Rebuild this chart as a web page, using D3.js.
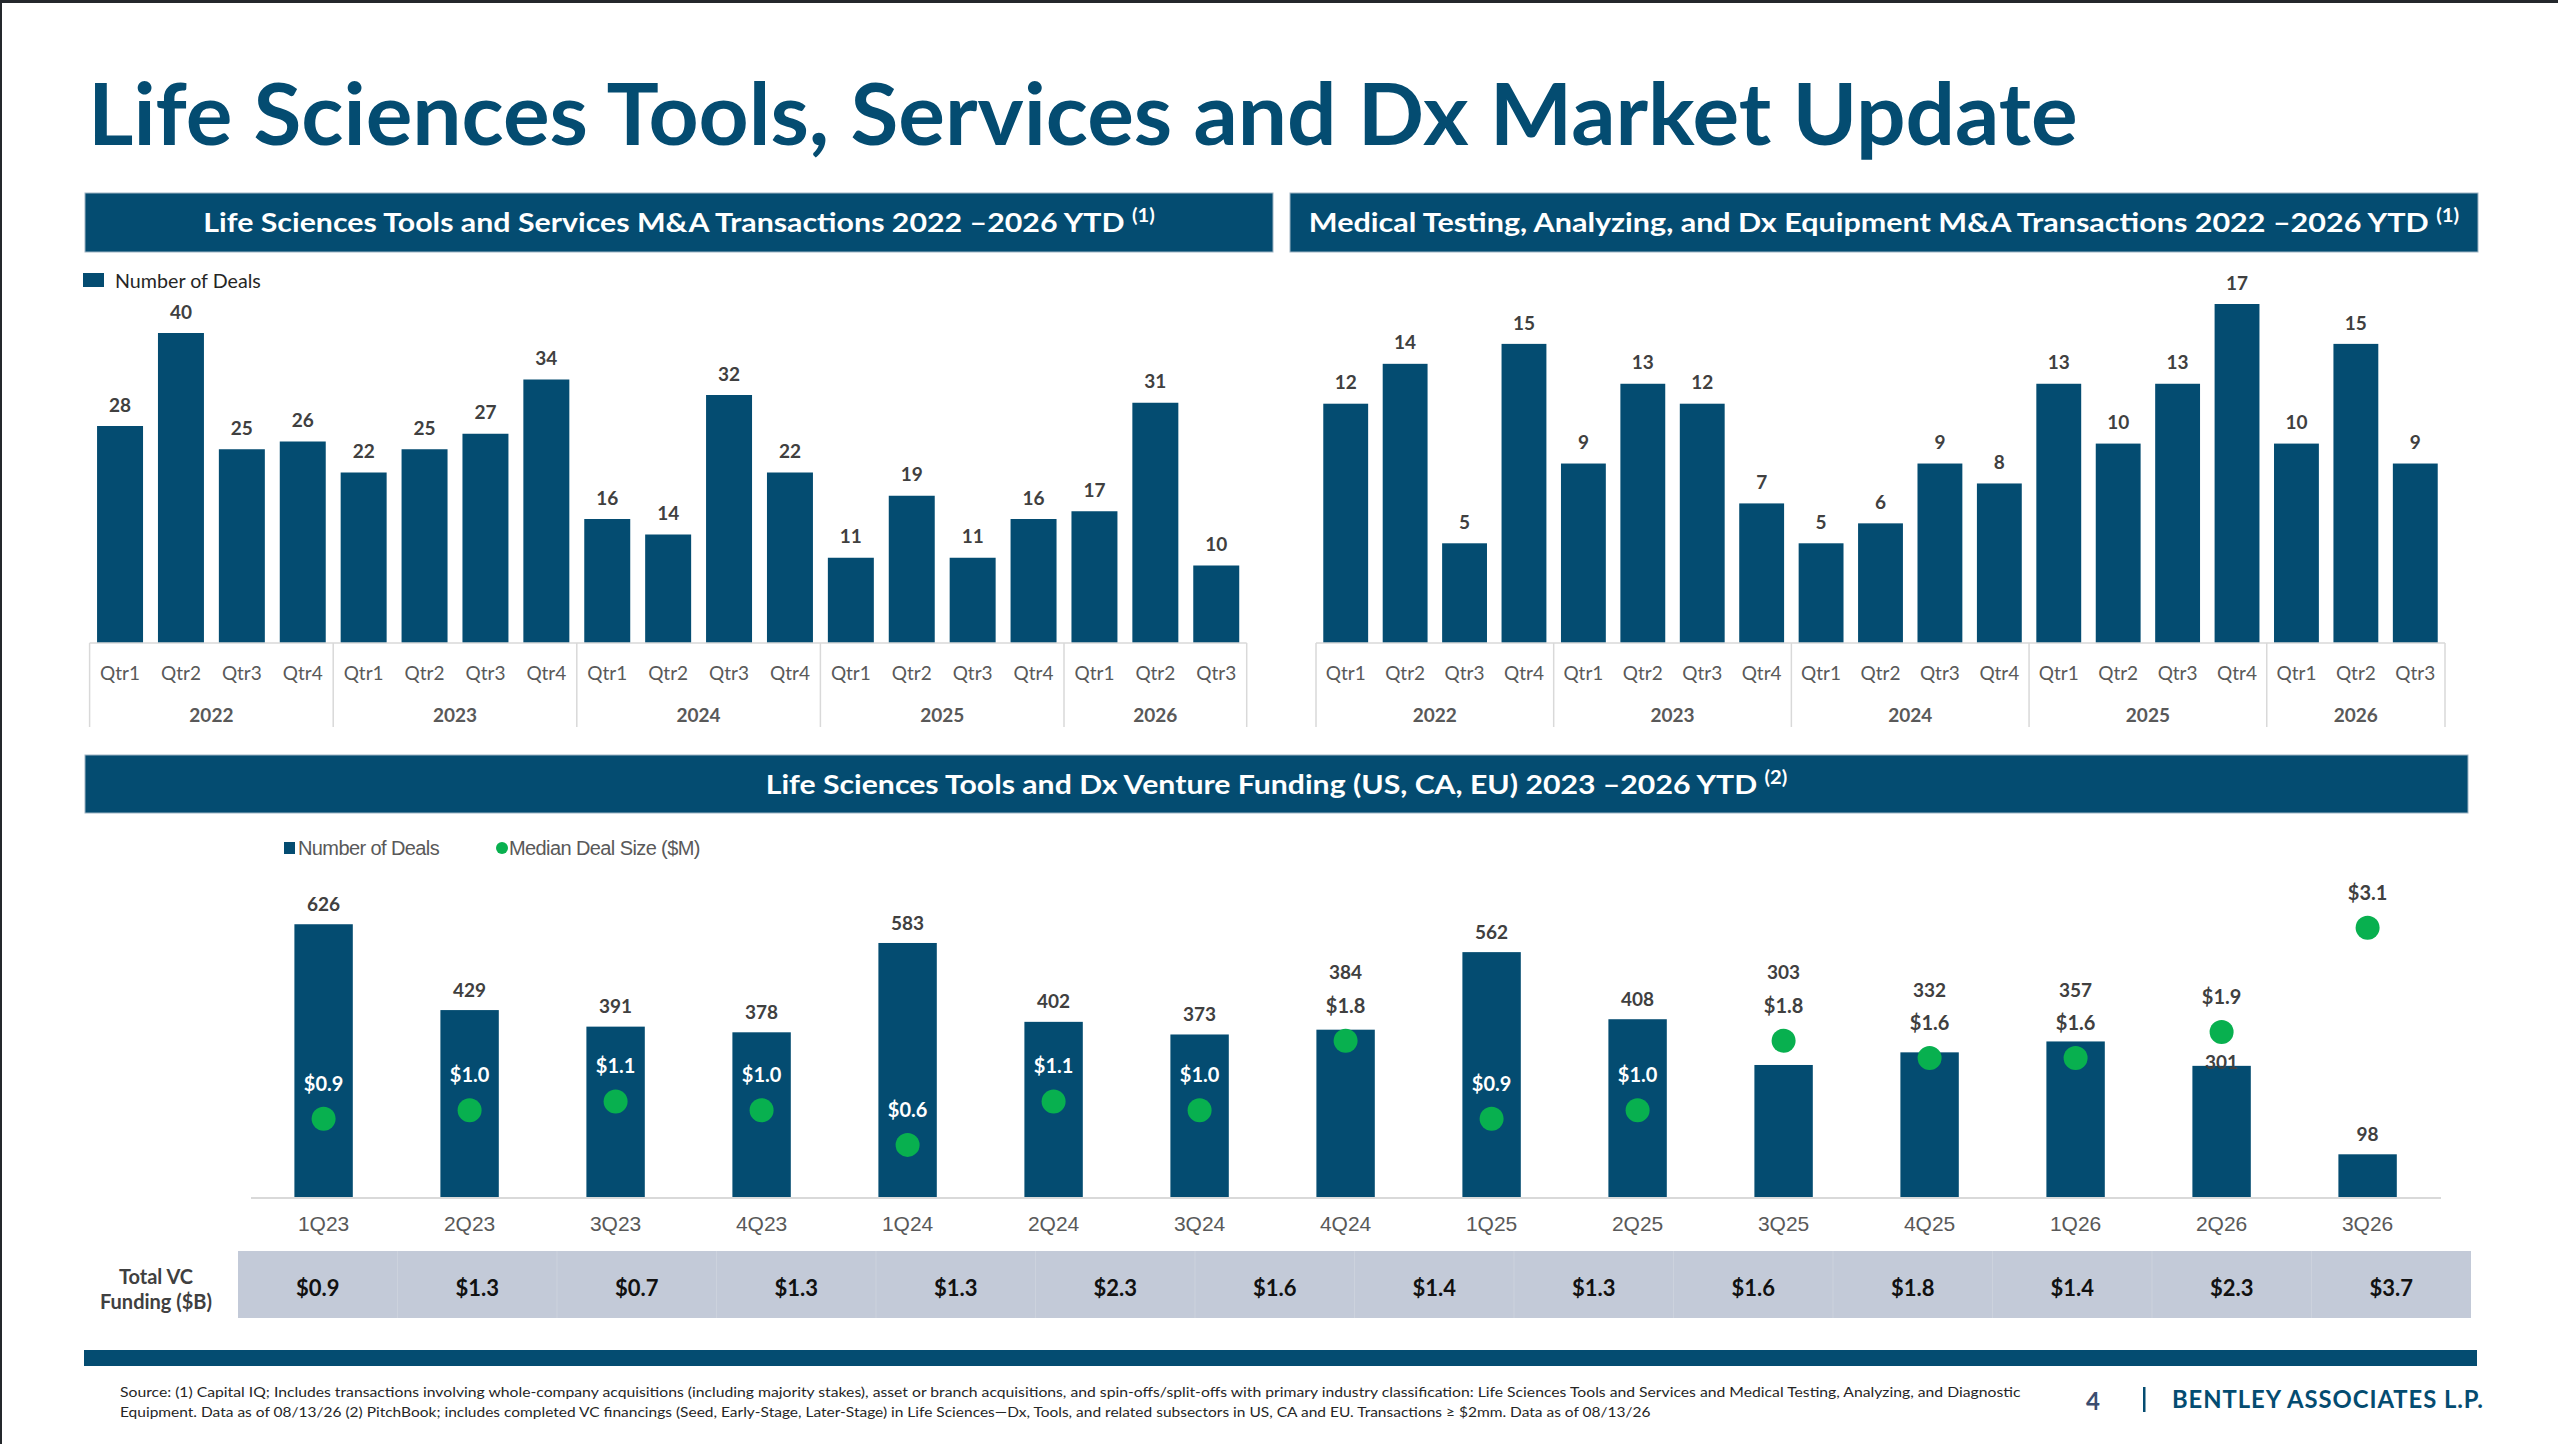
<!DOCTYPE html>
<html>
<head>
<meta charset="utf-8">
<script src="https://cdn.jsdelivr.net/npm/d3@7"></script>
<style>
  html, body { margin: 0; padding: 0; background: #fff; overflow: hidden; }
  svg { display: block; }
</style>
</head>
<body>
<div id="chart"></div>
<script>
// ---- data ----
var maCategories = ["2022-Qtr1","2022-Qtr2","2022-Qtr3","2022-Qtr4",
                    "2023-Qtr1","2023-Qtr2","2023-Qtr3","2023-Qtr4",
                    "2024-Qtr1","2024-Qtr2","2024-Qtr3","2024-Qtr4",
                    "2025-Qtr1","2025-Qtr2","2025-Qtr3","2025-Qtr4",
                    "2026-Qtr1","2026-Qtr2","2026-Qtr3"];
var toolsDeals   = [28, 40, 25, 26, 22, 25, 27, 34, 16, 14, 32, 22, 11, 19, 11, 16, 17, 31, 10];
var medtechDeals = [12, 14, 5, 15, 9, 13, 12, 7, 5, 6, 9, 8, 13, 10, 13, 17, 10, 15, 9];

var vcQuarters = ["1Q23","2Q23","3Q23","4Q23","1Q24","2Q24","3Q24","4Q24",
                  "1Q25","2Q25","3Q25","4Q25","1Q26","2Q26","3Q26"];
var vcDeals      = [626, 429, 391, 378, 583, 402, 373, 384, 562, 408, 303, 332, 357, 301, 98];
var vcMedianSize = [0.9, 1.0, 1.1, 1.0, 0.6, 1.1, 1.0, 1.8, 0.9, 1.0, 1.8, 1.6, 1.6, 1.9, 3.1];
var vcTotalFunding = [0.9, 1.3, 0.7, 1.3, 1.3, 2.3, 1.6, 1.4, 1.3, 1.6, 1.8, 1.4, 2.3, 3.7];

// label of 2Q26 deal count sits on the bar top in the original slide
var countLabelOnBar = ["2Q26"];

var navy = "#044c71";
var green = "#08b04f";
var labelGrey = "#404040";
var axisGrey = "#595959";
var calibri = "Lato, 'Open Sans', sans-serif";
var arial = "'Liberation Sans', Arial, sans-serif";

var W = 2558, H = 1444;

var svg = d3.select("#chart").append("svg")
            .attr("width", W)
            .attr("height", H);

svg.append("rect").attr("width", W).attr("height", H).attr("fill", "#fff");
// slide frame edge
svg.append("rect").attr("x", 0).attr("y", 0).attr("width", W).attr("height", 3).attr("fill", "#24282c");
svg.append("rect").attr("x", 0).attr("y", 0).attr("width", 2).attr("height", H).attr("fill", "#24282c");

// squeeze/stretch a text horizontally to a target width, keeping its height
function fitWidth(sel, width) {
    var w = sel.node().getComputedTextLength();
    var x = +sel.attr("x"), y = +sel.attr("y");
    sel.attr("transform", "translate(" + x + "," + y + ") scale(" + (width / w) + ",1) translate(" + (-x) + "," + (-y) + ")");
}

// ---- title ----
var title = svg.append("text")
   .attr("x", 88).attr("y", 145)
   .attr("font-family", calibri).attr("font-weight", 700)
   .attr("font-size", 86).attr("fill", navy)
   .text("Life Sciences Tools, Services and Dx Market Update");
fitWidth(title, 1990);

// ---- section headers ----
function header(x, y, w, h, label, sup, textW) {
    svg.append("rect")
       .attr("x", x).attr("y", y).attr("width", w).attr("height", h)
       .attr("fill", navy)
       .attr("stroke", "#9db4c4").attr("stroke-width", 1);
    var t = svg.append("text")
       .attr("x", x + w / 2).attr("y", y + h / 2 + 10)
       .attr("text-anchor", "middle")
       .attr("font-family", calibri).attr("font-weight", 700)
       .attr("font-size", 27).attr("fill", "#fff");
    t.append("tspan").text(label + " ");
    t.append("tspan").attr("font-size", 18).attr("dy", -10).text(sup);
    fitWidth(t, textW);
}
header(85, 193, 1188, 59, "Life Sciences Tools and Services M&A Transactions 2022 \u20132026 YTD", "(1)", 952);
header(1290, 193, 1188, 59, "Medical Testing, Analyzing, and Dx Equipment M&A Transactions 2022 \u20132026 YTD", "(1)", 1151);
header(85, 755, 2383, 58, "Life Sciences Tools and Dx Venture Funding (US, CA, EU) 2023 \u20132026 YTD", "(2)", 1022);

// ---- M&A bar charts ----
function maChart(values, x0, x1, yMax, yTopPx) {
    var base = 643;
    var x = d3.scaleBand().domain(maCategories).range([x0, x1])
              .paddingInner(0.245).paddingOuter(0.1225);
    var y = d3.scaleLinear().domain([0, yMax]).range([base, yTopPx]);
    var g = svg.append("g");

    g.selectAll("rect.bar")
     .data(values)
     .enter()
     .append("rect")
     .attr("class", "bar")
     .attr("x", function(d, i) { return x(maCategories[i]); })
     .attr("y", function(d) { return y(d); })
     .attr("width", x.bandwidth())
     .attr("height", function(d) { return base - y(d); })
     .attr("fill", navy);

    g.selectAll("text.val")
     .data(values)
     .enter()
     .append("text")
     .attr("class", "val")
     .attr("x", function(d, i) { return x(maCategories[i]) + x.bandwidth() / 2; })
     .attr("y", function(d) { return y(d) - 21; })
     .attr("dy", "0.35em")
     .attr("text-anchor", "middle")
     .attr("font-family", calibri).attr("font-weight", 700)
     .attr("font-size", 19).attr("fill", labelGrey)
     .text(function(d) { return d; });

    // multi-level category axis
    g.append("line")
     .attr("x1", x0).attr("x2", x1).attr("y1", base).attr("y2", base)
     .attr("stroke", "#d9d9d9").attr("stroke-width", 1.5);

    g.selectAll("text.qtr")
     .data(maCategories)
     .enter()
     .append("text")
     .attr("class", "qtr")
     .attr("x", function(d) { return x(d) + x.bandwidth() / 2; })
     .attr("y", 673).attr("dy", "0.35em")
     .attr("text-anchor", "middle")
     .attr("font-family", calibri).attr("font-size", 19).attr("fill", axisGrey)
     .text(function(d) { return d.split("-")[1]; });

    var years = d3.groups(maCategories, function(d) { return d.split("-")[0]; });
    var step = x.step();
    var edges = [x0];
    years.forEach(function(yr) {
        var first = yr[1][0], last = yr[1][yr[1].length - 1];
        var left = x(first) - (step - x.bandwidth()) / 2;
        var right = x(last) + x.bandwidth() + (step - x.bandwidth()) / 2;
        edges.push(right);
        g.append("text")
         .attr("x", (left + right) / 2).attr("y", 715).attr("dy", "0.35em")
         .attr("text-anchor", "middle")
         .attr("font-family", calibri).attr("font-weight", 700)
         .attr("font-size", 19).attr("fill", axisGrey)
         .text(yr[0]);
    });
    g.selectAll("line.sep")
     .data(edges)
     .enter()
     .append("line")
     .attr("class", "sep")
     .attr("x1", function(d) { return d; }).attr("x2", function(d) { return d; })
     .attr("y1", base).attr("y2", 727)
     .attr("stroke", "#d9d9d9").attr("stroke-width", 1.5);
}

maChart(toolsDeals, 89.6, 1246.7, 40, 333);
maChart(medtechDeals, 1316, 2445, 17, 304);

// legend of the left chart
svg.append("rect").attr("x", 83).attr("y", 273).attr("width", 21).attr("height", 14).attr("fill", navy);
var lg1 = svg.append("text")
   .attr("x", 115).attr("y", 281).attr("dy", "0.35em")
   .attr("font-family", calibri).attr("font-size", 19).attr("fill", "#262626")
   .text("Number of Deals");
fitWidth(lg1, 146);

// ---- venture funding chart ----
var vBase = 1197;
var vx = d3.scaleBand().domain(vcQuarters).range([250.6, 2440.6])
           .paddingInner(0.6).paddingOuter(0.3);
var vy = d3.scaleLinear().domain([0, 700]).range([vBase, 892]);
var vy2 = d3.scaleLinear().domain([0, 3.5]).range([vBase, 893]);

var vc = vcQuarters.map(function(q, i) {
    return { q: q, deals: vcDeals[i], median: vcMedianSize[i] };
});

var vg = svg.append("g");

vg.selectAll("rect.vbar")
  .data(vc)
  .enter()
  .append("rect")
  .attr("class", "vbar")
  .attr("x", function(d) { return vx(d.q); })
  .attr("y", function(d) { return vy(d.deals); })
  .attr("width", vx.bandwidth())
  .attr("height", function(d) { return vBase - vy(d.deals); })
  .attr("fill", navy);

vg.append("line")
  .attr("x1", 251).attr("x2", 2441).attr("y1", vBase + 1).attr("y2", vBase + 1)
  .attr("stroke", "#d9d9d9").attr("stroke-width", 2);

vg.selectAll("circle.dot")
  .data(vc)
  .enter()
  .append("circle")
  .attr("class", "dot")
  .attr("cx", function(d) { return vx(d.q) + vx.bandwidth() / 2; })
  .attr("cy", function(d) { return vy2(d.median); })
  .attr("r", 12)
  .attr("fill", green);

function medianLabelY(d) { return vy2(d.median) - 35; }
function medianInside(d) { return medianLabelY(d) - 10 > vy(d.deals); }

vg.selectAll("text.med")
  .data(vc)
  .enter()
  .append("text")
  .attr("class", "med")
  .attr("x", function(d) { return vx(d.q) + vx.bandwidth() / 2; })
  .attr("y", medianLabelY)
  .attr("dy", "0.35em")
  .attr("text-anchor", "middle")
  .attr("font-family", calibri).attr("font-weight", 700)
  .attr("font-size", 20)
  .attr("fill", function(d) { return medianInside(d) ? "#fff" : labelGrey; })
  .text(function(d) { return "$" + d.median.toFixed(1); });

function countLabelY(d) {
    var top = vy(d.deals);
    if (countLabelOnBar.indexOf(d.q) >= 0) return top - 4;
    var yDefault = top - 20;
    if (!medianInside(d)) {
        var my = medianLabelY(d);
        if (yDefault > my - 28 && yDefault < vy2(d.median) + 20) return my - 33;
    }
    return yDefault;
}

vg.selectAll("text.cnt")
  .data(vc)
  .enter()
  .append("text")
  .attr("class", "cnt")
  .attr("x", function(d) { return vx(d.q) + vx.bandwidth() / 2; })
  .attr("y", countLabelY)
  .attr("dy", "0.35em")
  .attr("text-anchor", "middle")
  .attr("font-family", calibri).attr("font-weight", 700)
  .attr("font-size", 19).attr("fill", labelGrey)
  .text(function(d) { return d.deals; });

vg.selectAll("text.vq")
  .data(vcQuarters)
  .enter()
  .append("text")
  .attr("class", "vq")
  .attr("x", function(d) { return vx(d) + vx.bandwidth() / 2; })
  .attr("y", 1224).attr("dy", "0.35em")
  .attr("text-anchor", "middle")
  .attr("font-family", arial).attr("font-size", 21).attr("fill", axisGrey)
  .text(function(d) { return d; });

// legend
svg.append("rect").attr("x", 284).attr("y", 842).attr("width", 11).attr("height", 12).attr("fill", navy);
svg.append("text")
   .attr("x", 298).attr("y", 848).attr("dy", "0.35em")
   .attr("font-family", arial).attr("font-size", 20).attr("fill", axisGrey)
   .attr("letter-spacing", -0.6)
   .text("Number of Deals");
svg.append("circle").attr("cx", 502).attr("cy", 848).attr("r", 6).attr("fill", green);
svg.append("text")
   .attr("x", 509).attr("y", 848).attr("dy", "0.35em")
   .attr("font-family", arial).attr("font-size", 20).attr("fill", axisGrey)
   .attr("letter-spacing", -0.6)
   .text("Median Deal Size ($M)");

// ---- total VC funding row ----
var tx = d3.scaleBand().domain(d3.range(vcTotalFunding.length)).range([238, 2471]);
svg.append("rect")
   .attr("x", 238).attr("y", 1251).attr("width", 2233).attr("height", 67)
   .attr("fill", "#c3cad8");
svg.selectAll("line.tsep")
   .data(d3.range(1, vcTotalFunding.length))
   .enter()
   .append("line")
   .attr("class", "tsep")
   .attr("x1", function(d) { return tx(d); }).attr("x2", function(d) { return tx(d); })
   .attr("y1", 1251).attr("y2", 1318)
   .attr("stroke", "#ccd2dd").attr("stroke-width", 1);
svg.selectAll("text.tv")
   .data(vcTotalFunding)
   .enter()
   .append("text")
   .attr("class", "tv")
   .attr("x", function(d, i) { return tx(i) + tx.bandwidth() / 2; })
   .attr("y", 1288).attr("dy", "0.35em")
   .attr("text-anchor", "middle")
   .attr("font-family", calibri).attr("font-weight", 700)
   .attr("font-size", 22).attr("fill", "#111")
   .text(function(d) { return "$" + d.toFixed(1); });

svg.append("text")
   .attr("x", 156).attr("y", 1277).attr("dy", "0.35em")
   .attr("text-anchor", "middle")
   .attr("font-family", calibri).attr("font-weight", 700)
   .attr("font-size", 20).attr("fill", labelGrey)
   .text("Total VC");
svg.append("text")
   .attr("x", 156).attr("y", 1302).attr("dy", "0.35em")
   .attr("text-anchor", "middle")
   .attr("font-family", calibri).attr("font-weight", 700)
   .attr("font-size", 20).attr("fill", labelGrey)
   .text("Funding ($B)");

// ---- footer ----
svg.append("rect").attr("x", 84).attr("y", 1350).attr("width", 2393).attr("height", 16).attr("fill", navy);

var fn1 = svg.append("text")
   .attr("x", 120).attr("y", 1392).attr("dy", "0.35em")
   .attr("font-family", calibri).attr("font-size", 14).attr("fill", "#262626")
   .text("Source: (1) Capital IQ; Includes transactions involving whole-company acquisitions (including majority stakes), asset or branch acquisitions, and spin-offs/split-offs with primary industry classification: Life Sciences Tools and Services and Medical Testing, Analyzing, and Diagnostic");
fitWidth(fn1, 1903);
var fn2 = svg.append("text")
   .attr("x", 120).attr("y", 1412).attr("dy", "0.35em")
   .attr("font-family", calibri).attr("font-size", 14).attr("fill", "#262626")
   .text("Equipment. Data as of 08/13/26 (2) PitchBook; includes completed VC financings (Seed, Early-Stage, Later-Stage) in Life Sciences\u2014Dx, Tools, and related subsectors in US, CA and EU. Transactions \u2265 $2mm. Data as of 08/13/26");
fitWidth(fn2, 1531);

svg.append("text")
   .attr("x", 2093).attr("y", 1402).attr("dy", "0.35em")
   .attr("text-anchor", "middle")
   .attr("font-family", calibri).attr("font-weight", 700)
   .attr("font-size", 24).attr("fill", "#3b4d70")
   .text("4");
svg.append("rect").attr("x", 2143).attr("y", 1387).attr("width", 2.5).attr("height", 25).attr("fill", navy);
var brand = svg.append("text")
   .attr("x", 2172).attr("y", 1399).attr("dy", "0.35em")
   .attr("font-family", calibri).attr("font-weight", 700)
   .attr("font-size", 25).attr("fill", navy)
   .attr("letter-spacing", 1)
   .text("BENTLEY ASSOCIATES L.P.");
fitWidth(brand, 312);
</script>
</body>
</html>
